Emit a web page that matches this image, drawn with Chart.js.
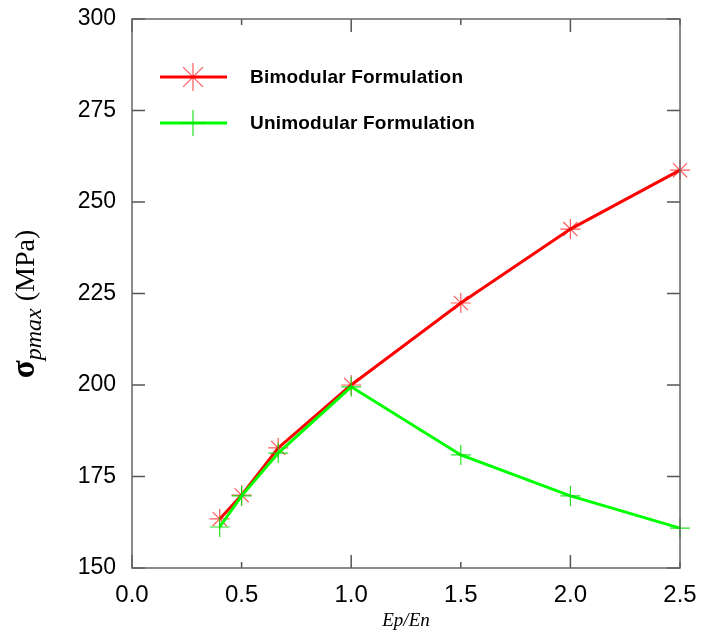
<!DOCTYPE html>
<html lang="en">
<head>
  <meta charset="UTF-8">
  <title>Bimodular vs Unimodular</title>
  <script src="https://cdn.jsdelivr.net/npm/chart.js"></script>
  <style>
    html, body { margin: 0; padding: 0; background: #fff; }
    #wrap { width: 716px; height: 638px; }
  </style>
</head>
<body>
  <div id="wrap"><canvas id="chart" width="716" height="638"></canvas></div>

  <script>
    // Ep/En ratios
    const ratios = [0.4, 0.5, 0.667, 1.0, 1.5, 2.0, 2.5];
    // sigma pmax (MPa)
    const bimodular = [163.4, 169.9, 182.8, 200.0, 222.4, 242.6, 258.7];
    const unimodular = [161.2, 169.7, 181.4, 199.5, 180.9, 169.7, 160.9];

    const xTicks = [0.0, 0.5, 1.0, 1.5, 2.0, 2.5];
    const yTicks = [150, 175, 200, 225, 250, 275, 300];

    const seriesNames = ['Bimodular Formulation', 'Unimodular Formulation'];

    const toPoints = (ys) => ratios.map((x, i) => ({ x: x, y: ys[i] }));

    // box round the plot and inward ticks
    const frame = {
      id: 'frame',
      afterDatasetsDraw(chart) {
        const { ctx, chartArea: a, scales } = chart;
        ctx.save();
        ctx.strokeStyle = '#555';
        ctx.lineWidth = 1.5;
        ctx.beginPath();
        xTicks.forEach((v) => {
          const px = scales.x.getPixelForValue(v);
          const len = (v % 1 === 0) ? 13 : 6;
          ctx.moveTo(px, a.bottom); ctx.lineTo(px, a.bottom - len);
          ctx.moveTo(px, a.top); ctx.lineTo(px, a.top + len);
        });
        yTicks.forEach((v) => {
          const py = scales.y.getPixelForValue(v);
          ctx.moveTo(a.left, py); ctx.lineTo(a.left + 13, py);
          ctx.moveTo(a.right, py); ctx.lineTo(a.right - 13, py);
        });
        ctx.stroke();
        ctx.strokeStyle = '#666';
        ctx.strokeRect(a.left, a.top, a.right - a.left, a.bottom - a.top);
        ctx.restore();
      }
    };

    // legend inside the plot, line with marker
    const innerLegend = {
      id: 'innerLegend',
      afterDraw(chart) {
        const { ctx } = chart;
        const rows = [
          { y: 77, ds: chart.data.datasets[0], r: 14 },
          { y: 123, ds: chart.data.datasets[1], r: 13 }
        ];
        ctx.save();
        rows.forEach((row, i) => {
          ctx.strokeStyle = row.ds.borderColor;
          ctx.lineWidth = 3;
          ctx.beginPath();
          ctx.moveTo(160, row.y); ctx.lineTo(227, row.y);
          ctx.stroke();
          ctx.strokeStyle = row.ds.pointBorderColor;
          ctx.lineWidth = 1.2;
          Chart.helpers.drawPoint(ctx, { pointStyle: row.ds.pointStyle, radius: row.r, rotation: 0, borderWidth: 1.2 }, 193, row.y);
          ctx.fillStyle = '#000';
          ctx.font = 'bold 19px "Liberation Sans", Arial, sans-serif';
          ctx.letterSpacing = '0.2px';
          ctx.textBaseline = 'middle';
          ctx.fillText(seriesNames[i], 250, row.y + 1);
        });
        ctx.restore();
      }
    };

    // y title with subscript: sigma_pmax (MPa)
    const yTitle = {
      id: 'yTitle',
      afterDraw(chart) {
        const { ctx } = chart;
        const parts = [
          { t: 'σ', f: 'bold 33px "Liberation Serif", serif', dy: 0 },
          { t: 'pmax', f: 'italic 24px "Liberation Serif", serif', dy: 7 },
          { t: ' (MPa)', f: '28px "Liberation Serif", serif', dy: 0 }
        ];
        ctx.save();
        let total = 0;
        parts.forEach((p) => { ctx.font = p.f; p.w = ctx.measureText(p.t).width; total += p.w; });
        ctx.translate(34, 304);
        ctx.rotate(-Math.PI / 2);
        ctx.fillStyle = '#000';
        ctx.textBaseline = 'alphabetic';
        let x = -total / 2;
        parts.forEach((p) => {
          ctx.font = p.f;
          ctx.fillText(p.t, x, p.dy);
          x += p.w;
        });
        ctx.restore();
      }
    };

    new Chart(document.getElementById('chart'), {
      type: 'scatter',
      data: {
        datasets: [
          {
            label: seriesNames[0],
            data: toPoints(bimodular),
            showLine: true,
            clip: false,
            borderColor: '#ff0000',
            borderWidth: 3,
            pointStyle: 'star',
            pointRadius: 10,
            pointBorderWidth: 1.2,
            pointBorderColor: 'rgba(255,0,0,0.65)',
            pointBackgroundColor: 'rgba(0,0,0,0)',
            order: 1
          },
          {
            label: seriesNames[1],
            data: toPoints(unimodular),
            showLine: true,
            clip: false,
            borderColor: '#00ff00',
            borderWidth: 3,
            pointStyle: 'cross',
            pointRadius: 10,
            pointBorderWidth: 1.2,
            pointBorderColor: 'rgba(0,220,0,0.85)',
            pointBackgroundColor: 'rgba(0,0,0,0)',
            order: 0
          }
        ]
      },
      options: {
        responsive: false,
        animation: false,
        devicePixelRatio: 1,
        layout: { padding: { left: 0, right: 36, top: 19, bottom: 0 } },
        plugins: {
          legend: { display: false },
          tooltip: { enabled: false }
        },
        scales: {
          x: {
            type: 'linear',
            min: 0,
            max: 2.5,
            afterBuildTicks: (s) => { s.ticks = xTicks.map((v) => ({ value: v })); },
            afterFit: (s) => { s.height = 70; s.paddingLeft = 0; s.paddingRight = 0; },
            grid: { display: false, drawTicks: false },
            border: { display: false },
            ticks: {
              padding: 13,
              color: '#000',
              font: { family: '"Liberation Sans", Arial, sans-serif', size: 24 },
              callback: (v) => Number(v).toFixed(1)
            },
            title: {
              display: true,
              text: 'Ep/En',
              color: '#000',
              padding: { top: 0, bottom: 6 },
              font: { family: '"Liberation Serif", serif', size: 19, style: 'italic' }
            }
          },
          y: {
            min: 150,
            max: 300,
            afterBuildTicks: (s) => { s.ticks = yTicks.map((v) => ({ value: v })); },
            afterFit: (s) => { s.width = 132; s.paddingTop = 0; s.paddingBottom = 0; },
            grid: { display: false, drawTicks: false },
            border: { display: false },
            ticks: {
              padding: 16,
              color: '#000',
              font: { family: '"Liberation Sans", Arial, sans-serif', size: 23 }
            }
          }
        }
      },
      plugins: [frame, innerLegend, yTitle]
    });
  </script>
</body>
</html>
